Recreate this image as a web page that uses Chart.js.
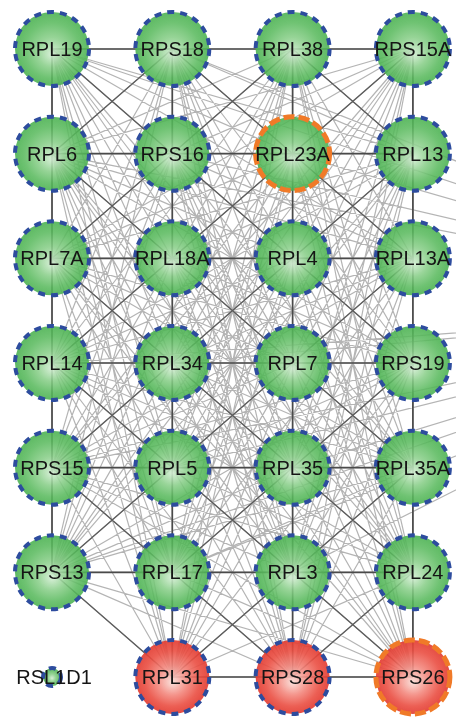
<!DOCTYPE html>
<html>
<head>
<meta charset="utf-8">
<script src="https://cdn.jsdelivr.net/npm/chart.js@4.4.1/dist/chart.umd.min.js"></script>
<style>
  html, body { margin: 0; padding: 0; background: #fff; }
  #wrap { width: 456px; height: 717px; position: relative; }
</style>
</head>
<body>
<div id="wrap"><canvas id="net"></canvas></div>
<script>
// Nodes, in grid order (4 per row, top to bottom)
const nodeNames = [
  'RPL19', 'RPS18', 'RPL38', 'RPS15A',
  'RPL6', 'RPS16', 'RPL23A', 'RPL13',
  'RPL7A', 'RPL18A', 'RPL4', 'RPL13A',
  'RPL14', 'RPL34', 'RPL7', 'RPS19',
  'RPS15', 'RPL5', 'RPL35', 'RPL35A',
  'RPS13', 'RPL17', 'RPL3', 'RPL24',
  'RSL1D1', 'RPL31', 'RPS28', 'RPS26'
];
const redNodes = ['RPL31', 'RPS28', 'RPS26'];
const orangeRing = ['RPL23A', 'RPS26'];
const smallNodes = ['RSL1D1'];

// Adjacency matrix, one line per node, columns grouped by grid row.
// Only the upper triangle is read.
const adjacency = [
  '0111 1111 1111 1111 1111 1111 0111',
  '1011 1111 1111 1111 1111 1111 0111',
  '1101 1111 1111 1111 1111 1111 0111',
  '1110 1111 1111 1111 1111 1111 0111',
  '1111 0111 1111 1111 1111 1111 0111',
  '1111 1011 1111 1111 1111 1111 0111',
  '1111 1101 1111 1111 1111 1111 0111',
  '1111 1110 1111 1111 1111 1111 0111',
  '1111 1111 0111 1111 1111 1111 0111',
  '1111 1111 1011 1111 1111 1111 0111',
  '1111 1111 1101 1111 1111 1111 0111',
  '1111 1111 1110 1111 1111 1111 0111',
  '1111 1111 1111 0111 1111 1111 0111',
  '1111 1111 1111 1011 1111 1111 0111',
  '1111 1111 1111 1101 1111 1111 0111',
  '1111 1111 1111 1110 1111 1111 0111',
  '1111 1111 1111 1111 0111 1111 0111',
  '1111 1111 1111 1111 1011 1111 0111',
  '1111 1111 1111 1111 1101 1111 0111',
  '1111 1111 1111 1111 1110 1111 0111',
  '1111 1111 1111 1111 1111 0111 0111',
  '1111 1111 1111 1111 1111 1011 0111',
  '1111 1111 1111 1111 1111 1101 0111',
  '1111 1111 1111 1111 1111 1110 0111',
  '0000 0000 0000 0000 0000 0000 0000',
  '1111 1111 1111 1111 1111 1111 0011',
  '1111 1111 1111 1111 1111 1111 0101',
  '1111 1111 1111 1111 1111 1111 0110'
];

// strong links between grid neighbours
const gridLinks = [
  'RPL19-RPS18', 'RPS18-RPL38', 'RPL38-RPS15A',
  'RPL6-RPS16', 'RPS16-RPL23A', 'RPL23A-RPL13',
  'RPL7A-RPL18A', 'RPL18A-RPL4', 'RPL4-RPL13A',
  'RPL14-RPL34', 'RPL34-RPL7', 'RPL7-RPS19',
  'RPS15-RPL5', 'RPL5-RPL35', 'RPL35-RPL35A',
  'RPS13-RPL17', 'RPL17-RPL3', 'RPL3-RPL24',
  'RPL31-RPS28', 'RPS28-RPS26',
  'RPL19-RPL6', 'RPL6-RPL7A', 'RPL7A-RPL14', 'RPL14-RPS15', 'RPS15-RPS13',
  'RPS18-RPS16', 'RPS16-RPL18A', 'RPL18A-RPL34', 'RPL34-RPL5', 'RPL5-RPL17', 'RPL17-RPL31',
  'RPL38-RPL23A', 'RPL23A-RPL4', 'RPL4-RPL7', 'RPL7-RPL35', 'RPL35-RPL3', 'RPL3-RPS28',
  'RPS15A-RPL13', 'RPL13-RPL13A', 'RPL13A-RPS19', 'RPS19-RPL35A', 'RPL35A-RPL24', 'RPL24-RPS26'
];

// darker diagonal links
const diagLinks = [
  'RPL19-RPS16', 'RPS18-RPL6', 'RPS18-RPL23A', 'RPL38-RPS16', 'RPL38-RPL13', 'RPS15A-RPL23A',
  'RPL6-RPL18A', 'RPS16-RPL7A', 'RPS16-RPL4', 'RPL23A-RPL18A', 'RPL23A-RPL13A', 'RPL13-RPL4',
  'RPL7A-RPL34', 'RPL18A-RPL14', 'RPL18A-RPL7', 'RPL4-RPL34', 'RPL4-RPS19', 'RPL13A-RPL7',
  'RPL14-RPL5', 'RPL34-RPS15', 'RPL34-RPL35', 'RPL7-RPL5', 'RPL7-RPL35A', 'RPS19-RPL35',
  'RPS15-RPL17', 'RPL5-RPS13', 'RPL5-RPL3', 'RPL35-RPL17', 'RPL35-RPL24', 'RPL35A-RPL3',
  'RPS13-RPL31', 'RPL17-RPS28', 'RPL3-RPL31', 'RPL3-RPS26', 'RPL24-RPS28'
];

// links running to a node outside the cropped view (right side)
const offViewLinks = [
  'RPL19', 'RPS18', 'RPL6', 'RPS16', 'RPL23A', 'RPL14', 'RPL34',
  'RPS15', 'RPL5', 'RPL35', 'RPS13', 'RPL17', 'RPL3'
];

// layout
const COLS = 4;
const OFF_VIEW = { x: 6.4, y: 2.45 };
const slot = i => ({ x: i % COLS, y: Math.floor(i / COLS) });
const slotOf = name => slot(nodeNames.indexOf(name));
const radiusOf = name => smallNodes.includes(name) ? 9 : 37;

function segments(pairs) {
  const out = [];
  pairs.forEach(([a, b]) => out.push(a, b, { x: null, y: null }));
  return out;
}
const namePairs = list => list.map(s => s.split('-').map(slotOf));

const lightPairs = [];
adjacency.forEach((row, i) => {
  const bits = row.replace(/ /g, '');
  for (let j = i + 1; j < bits.length; j++) {
    if (bits[j] === '1') lightPairs.push([slot(i), slot(j)]);
  }
});
offViewLinks.forEach(n => lightPairs.push([slotOf(n), OFF_VIEW]));

function nodeFill(ctx) {
  const raw = ctx.raw;
  const red = raw && redNodes.includes(raw.name);
  const flat = red ? 'rgba(236,88,76,0.9)' : 'rgba(96,190,100,0.9)';
  if (!raw || !raw.name) return flat;
  const chart = ctx.chart;
  const x = chart.scales.x.getPixelForValue(raw.x);
  const y = chart.scales.y.getPixelForValue(raw.y);
  if (!isFinite(x) || !isFinite(y)) return flat;
  const r = radiusOf(raw.name);
  const g = chart.ctx.createRadialGradient(x, y + r * 0.15, 0, x, y, r);
  if (red) {
    g.addColorStop(0, 'rgba(250,222,216,0.92)');
    g.addColorStop(0.4, 'rgba(243,136,126,0.9)');
    g.addColorStop(0.75, 'rgba(234,78,66,0.9)');
    g.addColorStop(1, 'rgba(226,60,50,0.92)');
  } else {
    g.addColorStop(0, 'rgba(212,238,212,0.9)');
    g.addColorStop(0.4, 'rgba(136,206,136,0.87)');
    g.addColorStop(0.75, 'rgba(90,186,94,0.87)');
    g.addColorStop(1, 'rgba(76,178,82,0.9)');
  }
  return g;
}

const nodePoints = names => names.map(n => ({ ...slotOf(n), name: n }));

const ringDash = {
  id: 'ringDash',
  beforeDatasetDraw(chart, args) {
    const d = chart.data.datasets[args.index].ringDash;
    if (d) chart.ctx.setLineDash(d);
  },
  afterDatasetDraw(chart) {
    chart.ctx.setLineDash([]);
  }
};

const nodeLabels = {
  id: 'nodeLabels',
  afterDatasetsDraw(chart) {
    const ctx = chart.ctx;
    ctx.save();
    ctx.font = '20px "Liberation Sans", Arial, sans-serif';
    ctx.fillStyle = '#151515';
    ctx.textAlign = 'center';
    ctx.textBaseline = 'alphabetic';
    chart.data.datasets.forEach((ds, di) => {
      if (!ds.isNodes) return;
      chart.getDatasetMeta(di).data.forEach((pt, k) => {
        const name = ds.data[k].name;
        const dx = smallNodes.includes(name) ? 2 : 0;
        ctx.fillText(name, pt.x + dx, pt.y + 7);
      });
    });
    ctx.restore();
  }
};

new Chart(document.getElementById('net'), {
  type: 'scatter',
  data: {
    datasets: [
      {
        isNodes: true,
        data: nodePoints(nodeNames.filter(n => !orangeRing.includes(n))),
        pointRadius: ctx => radiusOf(ctx.raw && ctx.raw.name),
        backgroundColor: nodeFill,
        borderColor: '#2d4c9e',
        borderWidth: 4,
        ringDash: [7, 6],
        order: 0
      },
      {
        isNodes: true,
        data: nodePoints(orangeRing),
        pointRadius: 37,
        backgroundColor: nodeFill,
        borderColor: '#f07a28',
        borderWidth: 5,
        ringDash: [11, 4],
        order: 1
      },
      {
        data: segments(namePairs(gridLinks)),
        showLine: true,
        pointRadius: 0,
        borderColor: '#4a4a4a',
        borderWidth: 1.7,
        order: 2
      },
      {
        data: segments(namePairs(diagLinks)),
        showLine: true,
        pointRadius: 0,
        borderColor: 'rgba(75,75,75,0.85)',
        borderWidth: 1.3,
        order: 3
      },
      {
        data: segments(lightPairs),
        showLine: true,
        pointRadius: 0,
        borderColor: 'rgba(130,130,130,0.6)',
        borderWidth: 1.2,
        order: 4
      }
    ]
  },
  options: {
    responsive: true,
    maintainAspectRatio: false,
    animation: false,
    events: [],
    layout: { padding: 0, autoPadding: false },
    scales: {
      x: { type: 'linear', min: -0.4323, max: 3.3583, display: false },
      y: { type: 'linear', min: -0.4681, max: 6.382, reverse: true, display: false }
    },
    plugins: {
      legend: { display: false },
      tooltip: { enabled: false }
    }
  },
  plugins: [ringDash, nodeLabels]
});
</script>
</body>
</html>
